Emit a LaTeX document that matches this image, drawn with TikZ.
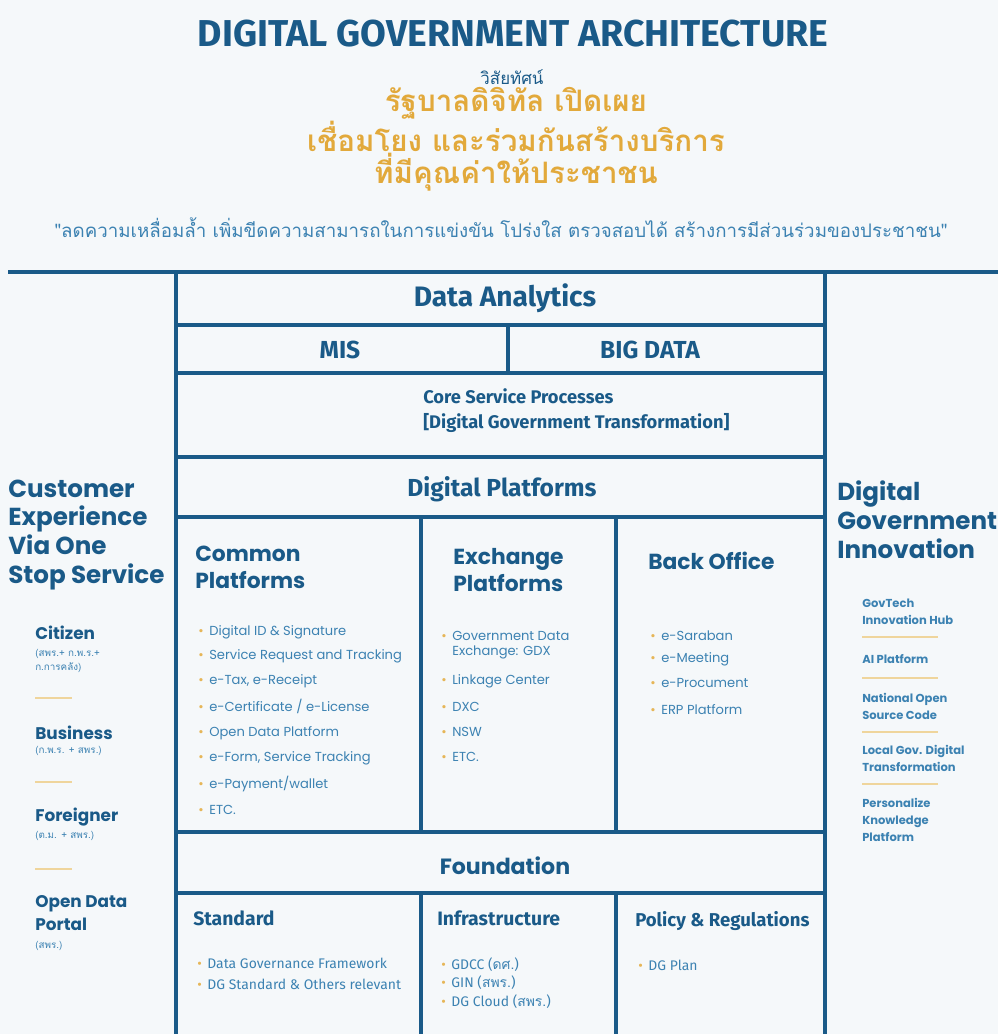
\documentclass[tikz,border=0pt]{standalone}
\usepackage{fontspec}
\setmainfont{Poppins}
\newfontfamily\firafont{Fira Sans}
\newfontfamily\thaifont[Script=Thai]{Loma}
\usetikzlibrary{positioning}

\definecolor{dgblue}{HTML}{1A5A88}
\definecolor{dgtext}{HTML}{3C82B2}
\definecolor{dggold}{HTML}{E2A93B}
\definecolor{dgpale}{HTML}{EFD59C}
\definecolor{dgpaper}{HTML}{F5F8FA}

\newcommand{\fsz}[2]{\fontsize{#1}{#2}\selectfont}
\newcommand{\dgbul}{{\color{dggold!85}\textbullet}\hspace{4pt}}

\begin{document}
\begin{tikzpicture}[x=0.025cm, y=-0.025cm,
    frame/.style={draw=dgblue, line width=2.3pt},
    divider/.style={draw=dgpale, line width=1.4pt},
    layer/.style={text=dgblue, inner sep=0pt, font=\firafont\bfseries\fsz{17.5}{20}},
    colhead/.style={text=dgblue, inner sep=0pt, anchor=west, align=left, font=\bfseries\fsz{15.5}{19}},
    boxhead/.style={text=dgblue, inner sep=0pt, anchor=west, font=\firafont\bfseries\fsz{13.8}{16}},
    side/.style={text=dgblue, inner sep=0pt, anchor=west, align=left, font=\bfseries\fsz{17.5}{20.6}},
    who/.style={text=dgblue, inner sep=0pt, anchor=west, font=\bfseries\fsz{12}{13}},
    agency/.style={text=dgtext, inner sep=0pt, anchor=west, align=left, font=\thaifont\fsz{7}{10}},
    item/.style={text=dgtext, inner sep=0pt, anchor=west, align=left, font=\fsz{9.3}{11}},
    fitem/.style={text=dgtext, inner sep=0pt, anchor=west, font=\firafont\fsz{9.9}{12}},
    innov/.style={text=dgtext, inner sep=0pt, anchor=west, align=left, font=\bfseries\fsz{8.2}{12}}]

    % Paper
    \fill[dgpaper] (0,0) rectangle (998,1034);
    \useasboundingbox (0,0) rectangle (998,1034);

    % Heading and vision
    \node[text=dgblue, font=\firafont\bfseries\fsz{26.6}{30}] (title) at (513,34) {DIGITAL GOVERNMENT ARCHITECTURE};
    \node[text=dgblue, font=\thaifont\fsz{12}{14}] (vision) at (512,77) {วิสัยทัศน์};
    \node[text=dggold, align=center, font=\thaifont\bfseries\fsz{21}{22.8}] (visiontext) at (516,139)
        {รัฐบาลดิจิทัล เปิดเผย\\เชื่อมโยง และร่วมกันสร้างบริการ\\ที่มีคุณค่าให้ประชาชน};
    \node[text=dgtext, font=\thaifont\fsz{13.3}{15}] (quote) at (501,228)
        {"ลดความเหลื่อมล้ำ เพิ่มขีดความสามารถในการแข่งขัน โปร่งใส ตรวจสอบได้ สร้างการมีส่วนร่วมของประชาชน"};

    % Frame
    \draw[frame] (8,272) -- (998,272);
    \draw[frame] (176,272) -- (176,1034);
    \draw[frame] (825,272) -- (825,1034);
    \foreach \yy in {325,373,457,517,832,893}
        \draw[frame] (176,\yy) -- (825,\yy);
    \draw[frame] (508,325) -- (508,373);
    \draw[frame] (421,517) -- (421,832);
    \draw[frame] (616,517) -- (616,832);
    \draw[frame] (421,893) -- (421,1034);
    \draw[frame] (616,893) -- (616,1034);

    % Centre layers
    \node[layer, font=\firafont\bfseries\fsz{20}{22}] (analytics) at (505,298) {Data Analytics};
    \node[layer] (mis) at (340,350) {MIS};
    \node[layer] (bigdata) at (650,350) {BIG DATA};
    \node[text=dgblue, inner sep=0pt, anchor=west, align=left, font=\firafont\bfseries\fsz{13}{17.8}] (core) at (423,411)
        {Core Service Processes\\{[Digital Government Transformation]}};
    \node[layer] (platforms) at (502,489) {Digital Platforms};

    % Common platforms
    \node[colhead] (common) at (195,567) {Common\\Platforms};
    \node[item] (c1) at (198,632) {\dgbul Digital ID \& Signature};
    \node[item] (c2) at (198,656) {\dgbul Service Request and Tracking};
    \node[item] (c3) at (198,681) {\dgbul e-Tax, e-Receipt};
    \node[item] (c4) at (198,706) {\dgbul e-Certificate / e-License};
    \node[item] (c5) at (198,733) {\dgbul Open Data Platform};
    \node[item] (c6) at (198,758) {\dgbul e-Form, Service Tracking};
    \node[item] (c7) at (198,784) {\dgbul e-Payment/wallet};
    \node[item] (c8) at (198,810) {\dgbul ETC.};

    % Exchange platforms
    \node[colhead] (exchange) at (453,570) {Exchange\\Platforms};
    \node[item] (x1) at (441,645) {\dgbul Government Data\\\phantom{\dgbul}Exchange: GDX};
    \node[item] (x2) at (441,681) {\dgbul Linkage Center};
    \node[item] (x3) at (441,707) {\dgbul DXC};
    \node[item] (x4) at (441,732) {\dgbul NSW};
    \node[item] (x5) at (441,757) {\dgbul ETC.};

    % Back office
    \node[colhead] (backoffice) at (648,561) {Back Office};
    \node[item] (b1) at (650,636) {\dgbul e-Saraban};
    \node[item] (b2) at (650,659) {\dgbul e-Meeting};
    \node[item] (b3) at (650,683) {\dgbul e-Procument};
    \node[item] (b4) at (650,710) {\dgbul ERP Platform};

    % Foundation
    \node[text=dgblue, inner sep=0pt, font=\bfseries\fsz{15.7}{18}] (foundation) at (505,866) {Foundation};
    \node[boxhead] (standard) at (193,918) {Standard};
    \node[fitem] (s1) at (197,963) {\dgbul Data Governance Framework};
    \node[fitem] (s2) at (197,984) {\dgbul DG Standard \& Others relevant};
    \node[boxhead] (infra) at (437,918) {Infrastructure};
    \node[fitem] (i1) at (441,965) {\dgbul GDCC ({\thaifont ดศ.})};
    \node[fitem] (i2) at (441,983) {\dgbul GIN ({\thaifont สพร.})};
    \node[fitem] (i3) at (441,1002) {\dgbul DG Cloud ({\thaifont สพร.})};
    \node[boxhead, font=\firafont\bfseries\fsz{13.2}{16}] (policy) at (635,921) {Policy \& Regulations};
    \node[fitem] (p1) at (638,965) {\dgbul DG Plan};

    % Customer side
    \node[side] (customer) at (8,535) {Customer\\Experience\\Via One\\Stop Service};
    \node[who] (citizen) at (35,633) {Citizen};
    \node[agency] (citizenby) at (35,661) {(สพร.+ ก.พ.ร.+\\ก.การคลัง)};
    \draw[divider] (35,698) -- (72,698);
    \node[who] (business) at (35,733) {Business};
    \node[agency] (businessby) at (35,751) {(ก.พ.ร. + สพร.)};
    \draw[divider] (35,782) -- (72,782);
    \node[who] (foreigner) at (35,817) {Foreigner};
    \node[agency] (foreignerby) at (35,836) {(ต.ม. + สพร.)};
    \draw[divider] (35,869) -- (72,869);
    \node[who, align=left, font=\bfseries\fsz{12}{17}] (portal) at (35,913) {Open Data\\Portal};
    \node[agency] (portalby) at (35,946) {(สพร.)};

    % Innovation side
    \node[side] (innovation) at (837,520) {Digital\\Government\\Innovation};
    \node[innov] (govtech) at (862,612) {GovTech\\Innovation Hub};
    \draw[divider] (862,637) -- (938,637);
    \node[innov] (ai) at (862,659) {AI Platform};
    \draw[divider] (862,678) -- (938,678);
    \node[innov] (opensource) at (862,706) {National Open\\Source Code};
    \draw[divider] (862,732) -- (938,732);
    \node[innov] (localgov) at (862,758) {Local Gov. Digital\\Transformation};
    \draw[divider] (862,784) -- (938,784);
    \node[innov] (knowledge) at (862,820) {Personalize\\Knowledge\\Platform};
\end{tikzpicture}
\end{document}
